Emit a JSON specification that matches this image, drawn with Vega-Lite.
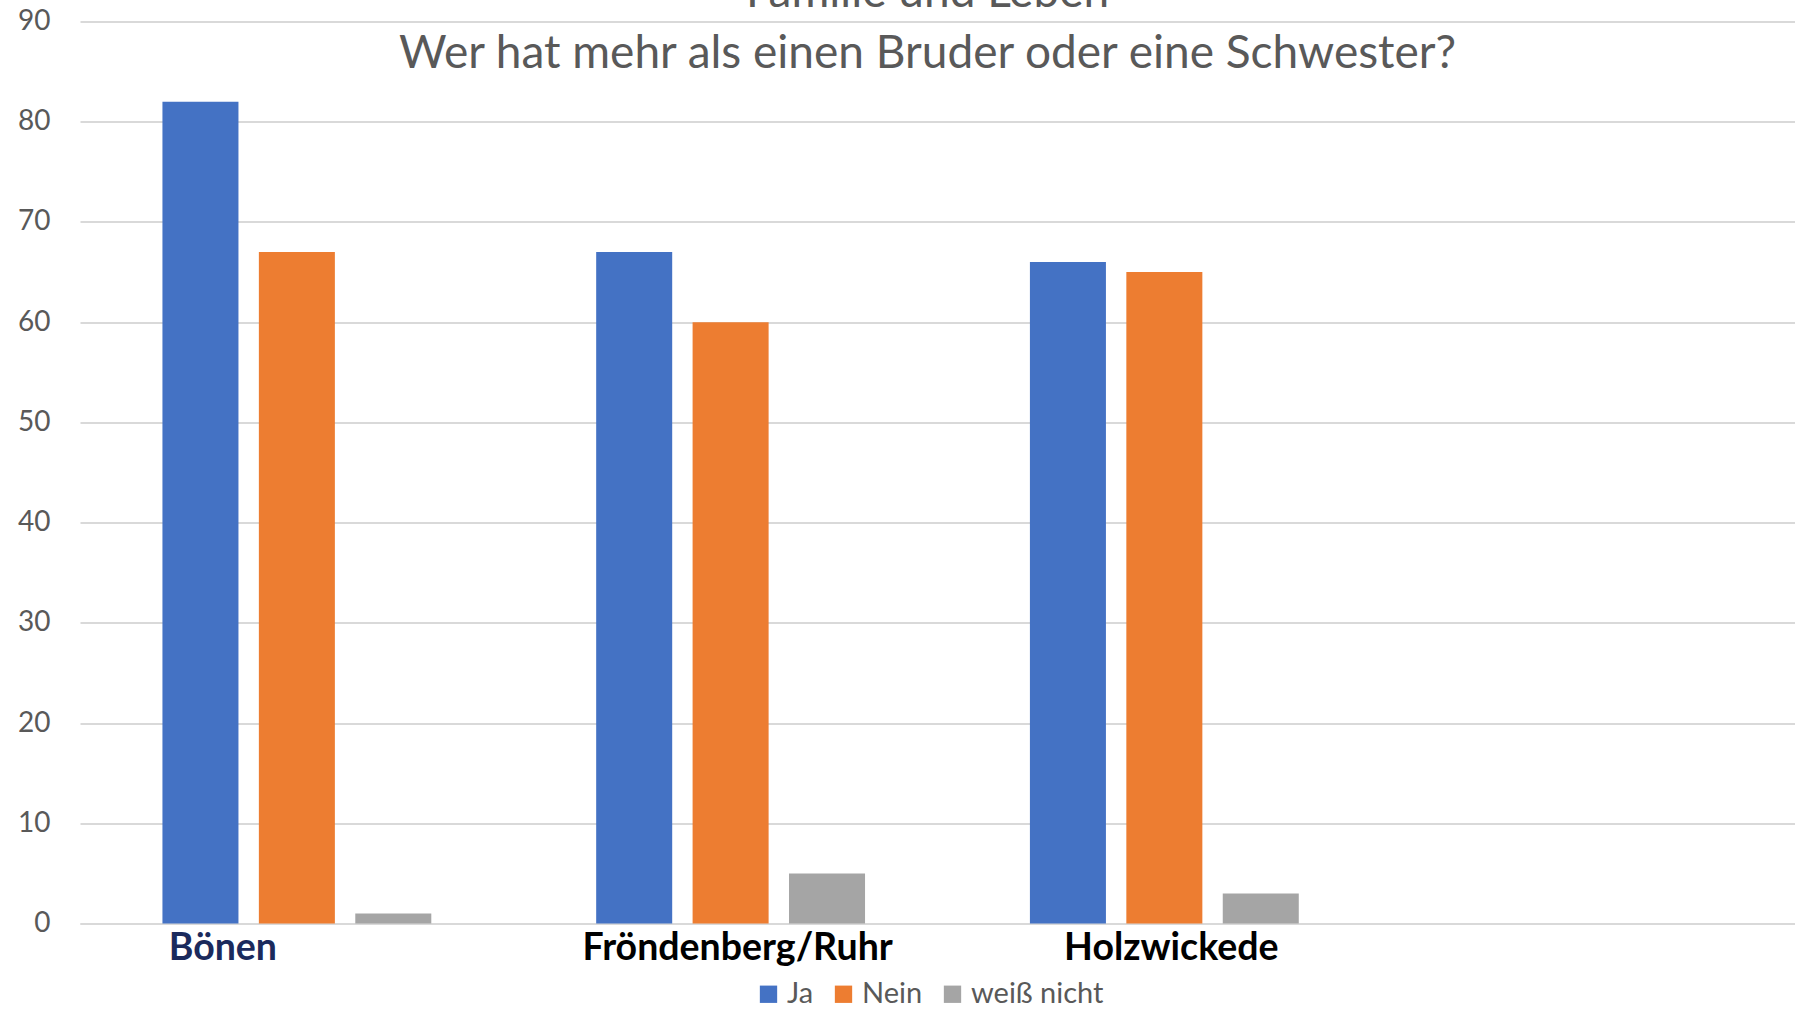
{
  "$schema": "https://vega.github.io/schema/vega-lite/v6.json",
  "autosize": {"type": "none"},
  "padding": {"left": 80, "top": 21.5, "right": 0, "bottom": 85.5},
  "width": 1715,
  "height": 902,
  "background": "#ffffff",
  "title": {
    "text": ["Familie und Leben", "Wer hat mehr als einen Bruder oder eine Schwester?"],
    "anchor": "middle",
    "frame": "group",
    "font": "Lato",
    "fontSize": 46,
    "fontWeight": "normal",
    "color": "#595959",
    "lineHeight": 61,
    "baseline": "bottom",
    "offset": -116,
    "dx": -10
  },
  "config": {
    "view": {"stroke": null},
    "font": "Lato"
  },
  "data": {
    "values": [
      {"Ort": "Bönen", "Antwort": "Ja", "Anzahl": 82},
      {"Ort": "Bönen", "Antwort": "Nein", "Anzahl": 67},
      {"Ort": "Bönen", "Antwort": "weiß nicht", "Anzahl": 1},
      {"Ort": "Fröndenberg/Ruhr", "Antwort": "Ja", "Anzahl": 67},
      {"Ort": "Fröndenberg/Ruhr", "Antwort": "Nein", "Anzahl": 60},
      {"Ort": "Fröndenberg/Ruhr", "Antwort": "weiß nicht", "Anzahl": 5},
      {"Ort": "Holzwickede", "Antwort": "Ja", "Anzahl": 66},
      {"Ort": "Holzwickede", "Antwort": "Nein", "Anzahl": 65},
      {"Ort": "Holzwickede", "Antwort": "weiß nicht", "Anzahl": 3}
    ]
  },
  "mark": {"type": "bar"},
  "encoding": {
    "x": {
      "field": "Ort",
      "type": "nominal",
      "sort": ["Bönen", "Fröndenberg/Ruhr", "Holzwickede"],
      "scale": {"paddingInner": 0, "paddingOuter": 0.477, "align": 0},
      "axis": {
        "title": null,
        "labelAngle": 0,
        "labelFont": "Lato",
        "labelFontSize": 37.5,
        "labelFontWeight": "bold",
        "labelLimit": 0,
        "labelColor": {"condition": {"test": "datum.label == 'Bönen'", "value": "#1B2A5C"}, "value": "#000000"},
        "labelOffset": {"condition": {"test": "datum.label == 'Bönen'", "value": -74}, "value": 7},
        "labelPadding": 6,
        "ticks": false,
        "grid": false,
        "domainColor": "#D9D9D9",
        "domainWidth": 2
      }
    },
    "xOffset": {
      "field": "Antwort",
      "type": "nominal",
      "sort": ["Ja", "Nein", "weiß nicht"],
      "scale": {"paddingInner": 0.2116, "paddingOuter": 0.855}
    },
    "y": {
      "field": "Anzahl",
      "type": "quantitative",
      "scale": {"domain": [0, 90], "nice": false},
      "axis": {
        "title": null,
        "values": [0, 10, 20, 30, 40, 50, 60, 70, 80, 90],
        "labelFont": "Lato",
        "labelFontSize": 28,
        "labelColor": "#595959",
        "labelPadding": 30,
        "ticks": false,
        "domain": false,
        "gridColor": "#D9D9D9",
        "gridWidth": 2
      }
    },
    "color": {
      "field": "Antwort",
      "type": "nominal",
      "sort": ["Ja", "Nein", "weiß nicht"],
      "scale": {"domain": ["Ja", "Nein", "weiß nicht"], "range": ["#4472C4", "#ED7D31", "#A5A5A5"]},
      "legend": {
        "title": null,
        "orient": "none",
        "direction": "horizontal",
        "legendX": 674,
        "legendY": 958,
        "symbolType": "square",
        "symbolSize": 300,
        "symbolStrokeWidth": 0,
        "symbolOpacity": 1,
        "labelFont": "Lato",
        "labelFontSize": 29,
        "labelColor": "#595959",
        "labelOffset": 4,
        "columnPadding": 15,
        "padding": 0
      }
    }
  }
}
